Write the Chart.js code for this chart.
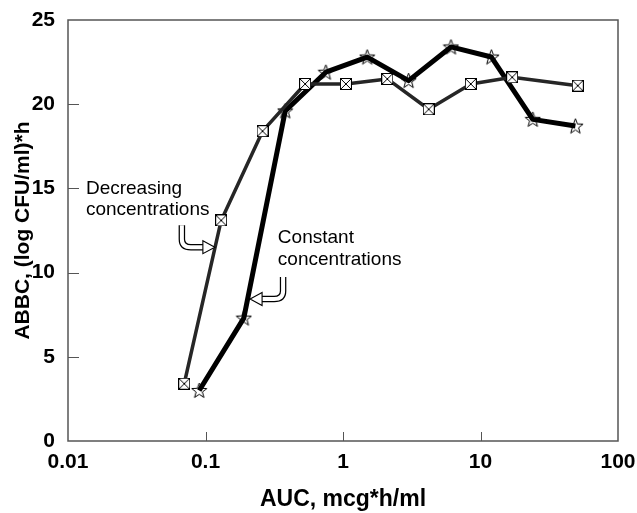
<!DOCTYPE html>
<html>
<head>
<meta charset="utf-8">
<script src="https://cdn.jsdelivr.net/npm/chart.js@4/dist/chart.umd.min.js"></script>
<style>
  html, body { margin: 0; padding: 0; background: #fff; }
  #chart { display: block; }
</style>
</head>
<body>
<canvas id="chart" width="637" height="513"></canvas>
<script>
// values
const decAuc  = [0.07, 0.13, 0.26, 0.53, 1.05, 2.1, 4.2, 8.5, 17, 51];
const decAbbc = [3.4, 13.1, 18.4, 21.2, 21.2, 21.5, 19.7, 21.2, 21.6, 21.1];
const conAuc  = [0.09, 0.19, 0.38, 0.75, 1.5, 3.0, 6.1, 12, 24, 49];
const conAbbc = [3.0, 7.3, 19.6, 21.9, 22.8, 21.4, 23.4, 22.8, 19.1, 18.7];

const xTickVals = [0.01, 0.1, 1, 10, 100];
const xTickLabels = ['0.01', '0.1', '1', '10', '100'];
const yTickVals = [0, 5, 10, 15, 20, 25];

// text notes and hooked arrows, anchored in data units
const notes = [
  { lines: ['Decreasing', 'concentrations'], x: 0.0135, y: 15.0 },
  { lines: ['Constant', 'concentrations'], x: 0.336, y: 12.05 }
];
const arrows = [
  { x: 0.117, y: 11.51, dir: 1 },
  { x: 0.211, y: 8.43, dir: -1 }
];

const FONT = '"Liberation Sans", Arial, Helvetica, sans-serif';

function squareMark() {
  const c = document.createElement('canvas');
  c.width = c.height = 12;
  const g = c.getContext('2d');
  g.fillStyle = '#fff';
  g.fillRect(0.5, 0.5, 11, 11);
  g.strokeStyle = '#000';
  g.lineWidth = 1;
  g.strokeRect(0.5, 0.5, 11, 11);
  g.beginPath();
  g.moveTo(0.5, 0.5); g.lineTo(11.5, 11.5);
  g.moveTo(11.5, 0.5); g.lineTo(0.5, 11.5);
  g.stroke();
  return c;
}

function starMark() {
  const c = document.createElement('canvas');
  c.width = c.height = 17;
  const g = c.getContext('2d');
  g.strokeStyle = '#000';
  g.lineWidth = 1;
  g.beginPath();
  for (let i = 0; i < 10; i++) {
    const r = i % 2 ? 3.3 : 8;
    const a = -Math.PI / 2 + i * Math.PI / 5;
    const px = 8.5 + r * Math.cos(a), py = 9 + r * Math.sin(a);
    if (i == 0) g.moveTo(px, py); else g.lineTo(px, py);
  }
  g.closePath();
  g.stroke();
  return c;
}

function drawHook(ctx, tx, ty, s) {
  ctx.save();
  ctx.translate(tx, ty);
  const path = () => {
    ctx.beginPath();
    ctx.moveTo(-33 * s, -22);
    ctx.lineTo(-33 * s, -8);
    ctx.quadraticCurveTo(-33 * s, 0, -24 * s, 0);
    ctx.lineTo(-11 * s, 0);
  };
  ctx.lineCap = 'butt';
  path(); ctx.strokeStyle = '#000'; ctx.lineWidth = 6.5; ctx.stroke();
  path(); ctx.strokeStyle = '#fff'; ctx.lineWidth = 4; ctx.stroke();
  ctx.beginPath();
  ctx.moveTo(-12 * s, -6.5);
  ctx.lineTo(0, 0);
  ctx.lineTo(-12 * s, 6.5);
  ctx.closePath();
  ctx.fillStyle = '#fff';
  ctx.fill();
  ctx.strokeStyle = '#000';
  ctx.lineWidth = 1.1;
  ctx.stroke();
  ctx.restore();
}

const extras = {
  id: 'extras',
  beforeDatasetsDraw(chart) {
    const { ctx, chartArea: a, scales: { x, y } } = chart;
    ctx.save();
    ctx.strokeStyle = '#555';
    ctx.lineWidth = 1.5;
    ctx.strokeRect(a.left, a.top, a.right - a.left, a.bottom - a.top);
    ctx.lineWidth = 1;
    ctx.beginPath();
    xTickVals.slice(1, -1).forEach(v => {
      const px = Math.round(x.getPixelForValue(v)) + 0.5;
      ctx.moveTo(px, a.bottom); ctx.lineTo(px, a.bottom - 9);
    });
    yTickVals.slice(1, -1).forEach(v => {
      const py = Math.round(y.getPixelForValue(v)) + 0.5;
      ctx.moveTo(a.left, py); ctx.lineTo(a.left + 11, py);
    });
    ctx.stroke();
    ctx.restore();
  },
  afterDatasetsDraw(chart) {
    const { ctx, scales: { x, y } } = chart;
    ctx.save();
    ctx.font = '19px ' + FONT;
    ctx.fillStyle = '#000';
    ctx.textBaseline = 'middle';
    ctx.textAlign = 'left';
    notes.forEach(n => {
      const px = x.getPixelForValue(n.x), py = y.getPixelForValue(n.y);
      n.lines.forEach((t, i) => ctx.fillText(t, px, py + i * 21.5));
    });
    arrows.forEach(ar => drawHook(ctx, x.getPixelForValue(ar.x), y.getPixelForValue(ar.y), ar.dir));
    ctx.restore();
  }
};

new Chart(document.getElementById('chart'), {
  type: 'line',
  data: {
    datasets: [
      {
        label: 'Decreasing concentrations',
        data: decAuc.map((v, i) => ({ x: v, y: decAbbc[i] })),
        borderColor: '#262626',
        borderWidth: 3.5,
        borderJoinStyle: 'round',
        pointStyle: squareMark(),
        tension: 0
      },
      {
        label: 'Constant concentrations',
        data: conAuc.map((v, i) => ({ x: v, y: conAbbc[i] })),
        borderColor: '#000',
        borderWidth: 5,
        borderJoinStyle: 'round',
        pointStyle: starMark(),
        tension: 0
      }
    ]
  },
  options: {
    responsive: false,
    animation: false,
    layout: { padding: { top: 20, right: 19, left: 0, bottom: 0 } },
    plugins: { legend: { display: false }, tooltip: { enabled: false } },
    scales: {
      x: {
        type: 'logarithmic',
        min: 0.01,
        max: 100,
        afterBuildTicks: s => { s.ticks = xTickVals.map(v => ({ value: v })); },
        afterFit: s => { s.height = 72; },
        ticks: {
          autoSkip: false,
          maxRotation: 0,
          padding: 1,
          color: '#000',
          font: { family: FONT, size: 21, weight: 'bold' },
          callback: (v, i) => xTickLabels[i]
        },
        grid: { display: false },
        border: { display: false },
        title: {
          display: true,
          text: 'AUC, mcg*h/ml',
          color: '#000',
          font: { family: FONT, size: 23, weight: 'bold' },
          padding: { top: 0, bottom: 0 }
        }
      },
      y: {
        min: 0,
        max: 25,
        afterBuildTicks: s => { s.ticks = yTickVals.map(v => ({ value: v })); },
        afterFit: s => { s.width = 68; },
        ticks: {
          padding: 5,
          color: '#000',
          font: { family: FONT, size: 21, weight: 'bold' }
        },
        grid: { display: false },
        border: { display: false },
        title: {
          display: true,
          text: 'ABBC, (log CFU/ml)*h',
          color: '#000',
          font: { family: FONT, size: 21, weight: 'bold' },
          padding: { top: 11, bottom: 0 }
        }
      }
    }
  },
  plugins: [extras]
});
</script>
</body>
</html>
